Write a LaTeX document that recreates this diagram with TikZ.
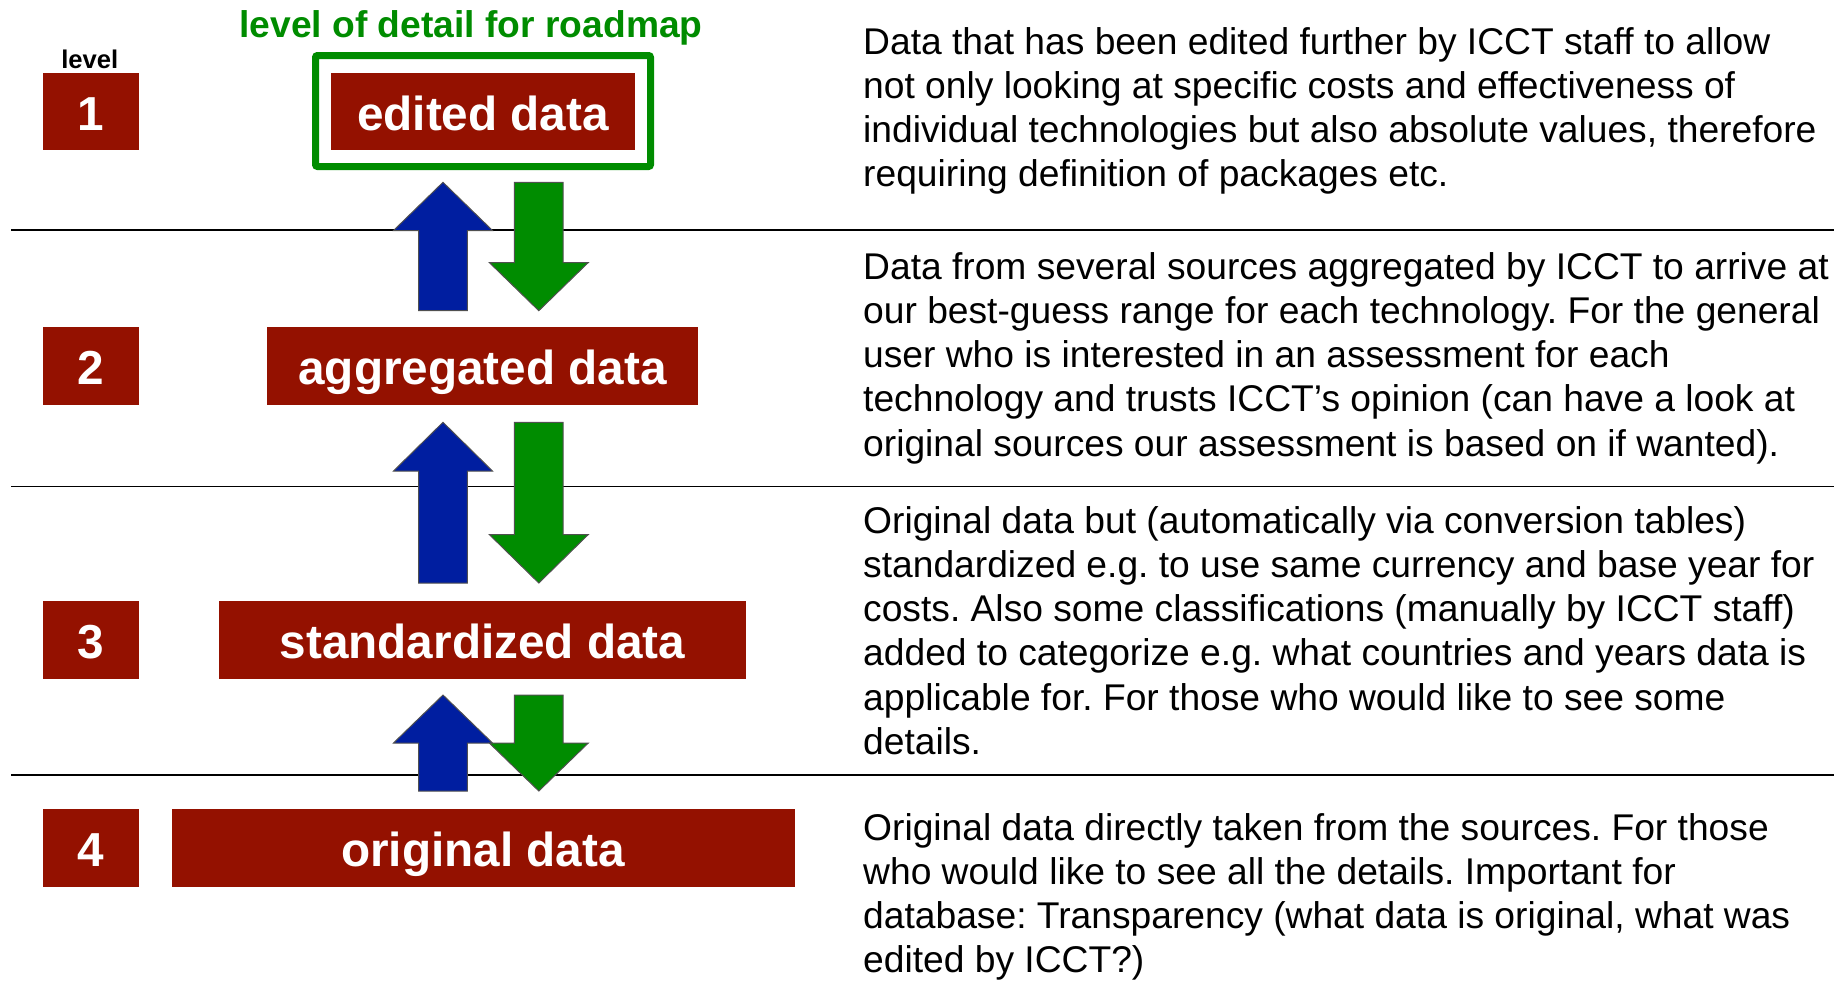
\documentclass[tikz,border=0pt]{standalone}
\usepackage{fontspec}
\setmainfont{Liberation Sans}[Ligatures={TeX,NoCommon}]
\frenchspacing
\definecolor{boxred}{RGB}{148,17,0}
\definecolor{upblue}{RGB}{0,30,160}
\definecolor{downgreen}{RGB}{0,140,0}
\definecolor{edgegray}{RGB}{80,80,80}
\newcommand{\blkarrow}[5]{%
  \filldraw[blockarrow, fill=#1] ({#2-24.4},#5) -- ({#2-24.4},#4) -- ({#2-49.5},#4) -- (#2,#3)
    -- ({#2+49.5},#4) -- ({#2+24.4},#4) -- ({#2+24.4},#5) -- cycle;}
\begin{document}
\begin{tikzpicture}[x=1pt,y=-1pt,
  lvlbox/.style={fill=boxred, inner sep=0pt, minimum height=77.5pt, text=white,
    font=\bfseries\fontsize{47.7}{50}\selectfont, text height=38pt, text depth=0pt},
  desc/.style={anchor=base west, inner sep=0pt, font=\fontsize{37.2}{44.2}\selectfont},
  sepline/.style={line width=1.8pt, black},
  blockarrow/.style={draw=edgegray, line width=1pt, line join=miter}
]
\useasboundingbox (0,0) rectangle (1843,980);

% separator lines
\coordinate (l1a) at (11,230);   \coordinate (l1b) at (1834,230);
\coordinate (l2a) at (11,486.5); \coordinate (l2b) at (1834,486.5);
\coordinate (l3a) at (11,775);   \coordinate (l3b) at (1834,775);
\draw[sepline] (l1a) -- (l1b);
\draw[sepline] (l2a) -- (l2b);
\draw[sepline] (l3a) -- (l3b);

% title and level header
\node[anchor=base, inner sep=0pt, text=downgreen, font=\bfseries\fontsize{37.2}{40}\selectfont] (title) at (471,37) {level of detail for roadmap};
\node[anchor=base, inner sep=0pt, font=\bfseries\fontsize{25.6}{28}\selectfont] (lvl) at (89.8,68.3) {level};

% level numbers
\node[lvlbox, minimum width=96pt] (n1) at (91,111.7) {1};
\node[lvlbox, minimum width=96pt] (n2) at (91,365.8) {2};
\node[lvlbox, minimum width=96pt] (n3) at (91,639.9) {3};
\node[lvlbox, minimum width=96pt] (n4) at (91,847.9) {4};

% data boxes
\node[draw=downgreen, line width=7pt, rounded corners=2pt, minimum width=335pt, minimum height=111pt] (frame) at (483,111) {};
\node[lvlbox, minimum width=304pt] (b1) at (483,111.7) {edited data};
\node[lvlbox, minimum width=431.5pt] (b2) at (482.6,365.8) {aggregated data};
\node[lvlbox, minimum width=527.7pt] (b3) at (482.5,639.9) {standardized data};
\node[lvlbox, minimum width=623pt] (b4) at (483,847.9) {original data};

% block arrows (blue up, green down)
\blkarrow{upblue}{443}{182.3}{230.5}{310.7}
\blkarrow{downgreen}{538.8}{310.7}{262.5}{182.3}
\blkarrow{upblue}{443}{422.3}{471}{583}
\blkarrow{downgreen}{538.8}{583}{534.5}{422.3}
\blkarrow{upblue}{443}{695}{743}{791}
\blkarrow{downgreen}{538.8}{791}{743}{695}

% descriptions
\node[desc] (d1a) at (863,54.3) {Data that has been edited further by ICCT staff to allow};
\node[desc] (d1b) at (863,98.5) {not only looking at specific costs and effectiveness of};
\node[desc] (d1c) at (863,142.7) {individual technologies but also absolute values, therefore};
\node[desc] (d1d) at (863,186.9) {requiring definition of packages etc.};

\node[desc] (d2a) at (863,279.3) {Data from several sources aggregated by ICCT to arrive at};
\node[desc] (d2b) at (863,323.5) {our best-guess range for each technology. For the general};
\node[desc] (d2c) at (863,367.7) {user who is interested in an assessment for each};
\node[desc] (d2d) at (863,411.9) {technology and trusts ICCT’s opinion (can have a look at};
\node[desc] (d2e) at (863,456.1) {original sources our assessment is based on if wanted).};

\node[desc] (d3a) at (863,533.3) {Original data but (automatically via conversion tables)};
\node[desc] (d3b) at (863,577.5) {standardized e.g. to use same currency and base year for};
\node[desc] (d3c) at (863,621.7) {costs. Also some classifications (manually by ICCT staff)};
\node[desc] (d3d) at (863,665.9) {added to categorize e.g. what countries and years data is};
\node[desc] (d3e) at (863,710.1) {applicable for. For those who would like to see some};
\node[desc] (d3f) at (863,754.3) {details.};

\node[desc] (d4a) at (863,840) {Original data directly taken from the sources. For those};
\node[desc] (d4b) at (863,884.2) {who would like to see all the details. Important for};
\node[desc] (d4c) at (863,928.4) {database: Transparency (what data is original, what was};
\node[desc] (d4d) at (863,972.6) {edited by ICCT?)};
\end{tikzpicture}
\end{document}
